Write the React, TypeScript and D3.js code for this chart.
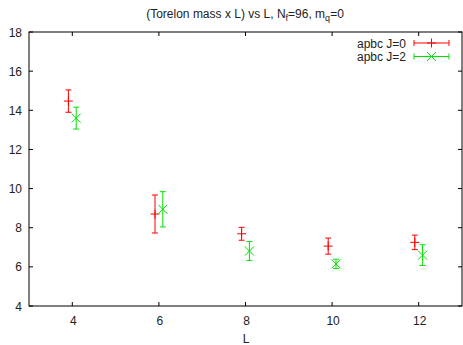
import React from "react";
import * as d3 from "d3";

const Ls = [4, 6, 8, 10, 12];
const j0Values = [14.47, 8.7, 7.69, 7.06, 7.25];
const j0Errors = [0.57, 0.97, 0.33, 0.41, 0.37];
const j2Values = [13.6, 8.94, 6.81, 6.15, 6.6];
const j2Errors = [0.56, 0.9, 0.48, 0.24, 0.53];
const xTicks = [4, 6, 8, 10, 12];
const yTicks = [4, 6, 8, 10, 12, 14, 16, 18];
const seriesNames = ["apbc J=0", "apbc J=2"];
const xOffsets = [-0.09, 0.09];

const W = 463;
const H = 345;
const M = { left: 29, right: 462, top: 32, bottom: 306 };
const FONT = "Liberation Sans, Arial, sans-serif";

export default function App() {
  const x = d3.scaleLinear().domain([3, 13]).range([M.left, M.right]);
  const y = d3.scaleLinear().domain([4, 18]).range([M.bottom, M.top]);
  const series = [
    { name: seriesNames[0], values: j0Values, errors: j0Errors, color: "#ff0000", marker: "plus" },
    { name: seriesNames[1], values: j2Values, errors: j2Errors, color: "#00e000", marker: "cross" },
  ];
  const cap = 3;
  const ms = 4.5;
  const marker = (type: string, cx: number, cy: number, color: string, key: string) =>
    type === "plus" ? (
      <g key={key} stroke={color} strokeWidth={1}>
        <line x1={cx - ms} x2={cx + ms} y1={cy} y2={cy} />
        <line x1={cx} x2={cx} y1={cy - ms} y2={cy + ms} />
      </g>
    ) : (
      <g key={key} stroke={color} strokeWidth={1}>
        <line x1={cx - ms} x2={cx + ms} y1={cy - ms} y2={cy + ms} />
        <line x1={cx - ms} x2={cx + ms} y1={cy + ms} y2={cy - ms} />
      </g>
    );
  return (
    <svg width={W} height={H} style={{ position: "absolute", left: 0, top: 0 }} fontFamily={FONT}>
      <rect width={W} height={H} fill="#fff" />
      <text x={245} y={18} textAnchor="middle" fontSize={12} fill="#222">
        (Torelon mass x L) vs L, N
        <tspan fontSize={9} dy={3}>f</tspan>
        <tspan dy={-3}>=96, m</tspan>
        <tspan fontSize={9} dy={3}>q</tspan>
        <tspan dy={-3}>=0</tspan>
      </text>
      {/* ticks */}
      <g stroke="#000" strokeWidth={1}>
        {xTicks.map((t) => (
          <g key={"xt" + t}>
            <line x1={x(t)} x2={x(t)} y1={M.bottom} y2={M.bottom - 4} />
            <line x1={x(t)} x2={x(t)} y1={M.top} y2={M.top + 4} />
          </g>
        ))}
        {yTicks.map((t) => (
          <g key={"yt" + t}>
            <line x1={M.left} x2={M.left + 4} y1={y(t)} y2={y(t)} />
            <line x1={M.right} x2={M.right - 4} y1={y(t)} y2={y(t)} />
          </g>
        ))}
      </g>
      <rect x={M.left} y={M.top} width={M.right - M.left} height={M.bottom - M.top} fill="none" stroke="#000" strokeWidth={1} />
      {xTicks.map((t) => (
        <text key={"xl" + t} x={x(t) + 1} y={325} textAnchor="middle" fontSize={12} fill="#222">
          {t}
        </text>
      ))}
      {yTicks.map((t) => (
        <text key={"yl" + t} x={22} y={y(t) + 4.5} textAnchor="end" fontSize={12} fill="#222">
          {t}
        </text>
      ))}
      <text x={246} y={343} textAnchor="middle" fontSize={12} fill="#222">L</text>
      {/* data */}
      {series.map((s, si) =>
        Ls.map((L, i) => {
          const cx = x(L + xOffsets[si]);
          const cy = y(s.values[i]);
          const yt = y(s.values[i] + s.errors[i]);
          const yb = y(s.values[i] - s.errors[i]);
          return (
            <g key={s.name + L}>
              <g stroke={s.color} strokeWidth={1}>
                <line x1={cx} x2={cx} y1={yt} y2={yb} />
                <line x1={cx - cap} x2={cx + cap} y1={yt} y2={yt} />
                <line x1={cx - cap} x2={cx + cap} y1={yb} y2={yb} />
              </g>
              {marker(s.marker, cx, cy, s.color, "m")}
            </g>
          );
        })
      )}
      {/* legend */}
      {series.map((s, si) => {
        const ly = 43 + si * 13.5;
        const x1 = 414;
        const x2 = 449;
        return (
          <g key={"lg" + si}>
            <text x={406} y={ly + 4.5} textAnchor="end" fontSize={12} fill="#222">
              {s.name}
            </text>
            <g stroke={s.color} strokeWidth={1}>
              <line x1={x1} x2={x2} y1={ly} y2={ly} />
              <line x1={x1} x2={x1} y1={ly - 3} y2={ly + 3} />
              <line x1={x2} x2={x2} y1={ly - 3} y2={ly + 3} />
            </g>
            {marker(s.marker, (x1 + x2) / 2, ly, s.color, "lm")}
          </g>
        );
      })}
    </svg>
  );
}
